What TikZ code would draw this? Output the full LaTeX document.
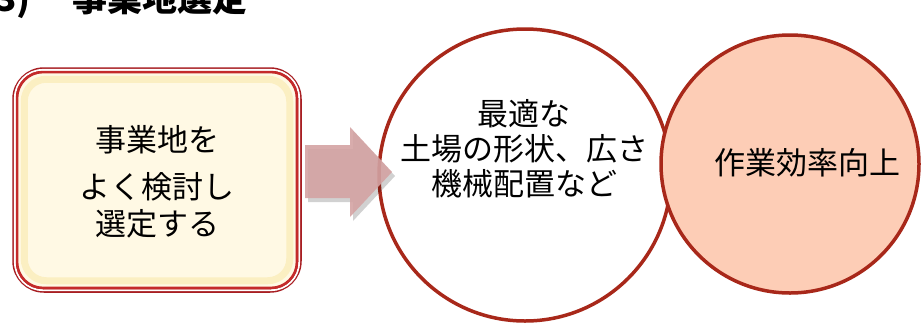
\documentclass[tikz,border=0pt]{standalone}
\usepackage{fontspec}
\newfontfamily\jp{Noto Sans CJK JP}
\usetikzlibrary{calc}
\definecolor{boxred}{HTML}{C42A2A}
\definecolor{boxdark}{HTML}{A81E22}
\definecolor{cream}{HTML}{FFF9E4}
\definecolor{glow}{HTML}{FBEFC2}
\definecolor{ringred}{HTML}{A8281A}
\definecolor{salmon}{HTML}{FDCDB6}
\definecolor{arrowpink}{HTML}{D4A3A3}
\tikzset{
  jptext/.style={font=\jp\fontsize{31}{35}\selectfont, align=center, inner sep=0pt},
  ring/.style={circle, draw=ringred, line width=3.5pt, inner sep=0pt},
}
\begin{document}
\begin{tikzpicture}[x=1pt,y=-1pt]
\useasboundingbox (0,0) rectangle (921,322);
\clip (0,0) rectangle (921,322);
\fill[white] (0,0) rectangle (921,322);
% title (cut by the top edge, as in the reference)
\node[anchor=base west, inner sep=0pt, font=\jp\bfseries\fontsize{35}{35}\selectfont] (num) at (-5,11) {3)};
\node[anchor=base west, inner sep=0pt, font=\jp\bfseries\fontsize{35}{35}\selectfont] (title) at (72,11) {事業地選定};
% left box
\node[draw=boxdark, line width=3.5pt, fill=cream, rounded corners=30pt,
      minimum width=286pt, minimum height=222pt, inner sep=0pt] (box) at (157,180) {};
\draw[glow, line width=7pt, rounded corners=22pt]
  ([shift={(12,12)}]box.north west) rectangle ([shift={(-12,-12)}]box.south east);
\draw[white, line width=1.8pt, rounded corners=28pt]
  ([shift={(2.6,2.6)}]box.north west) rectangle ([shift={(-2.6,-2.6)}]box.south east);
\draw[boxred, line width=2.6pt, rounded corners=26pt]
  ([shift={(4.8,4.8)}]box.north west) rectangle ([shift={(-4.8,-4.8)}]box.south east);
\node[jptext, font=\jp\fontsize{31}{37}\selectfont] (boxtext) at (157,182) {事業地を\\[10pt]よく検討し\\選定する};
% first circle
\node[ring, fill=white, minimum size=292pt] (c1) at (525,175) {};
% arrow
\coordinate (atail) at (305,171.5);
\coordinate (atip) at (392,172);
\fill[black, opacity=0.18] ($(atail)+(3,4)$) -- ++(0,-26.5) -- ++(45,0) -- ++(0,-18) -- ($(atip)+(3,4)$) -- ++(-42,45) -- ++(0,-19) -- ++(-45,0) -- cycle;
\fill[arrowpink, opacity=0.9] (atail) -- ++(0,-26.5) -- ++(45,0) -- ++(0,-18) -- (atip) -- ++(-42,45) -- ++(0,-19) -- ++(-45,0) -- cycle;
\node[jptext] (c1text) at (524,149) {最適な\\土場の形状、広さ\\機械配置など};
% second circle
\node[ring, fill=salmon, minimum size=258pt] (c2) at (790,164) {};
\node[jptext] (c2text) at (807,163) {作業効率向上};
\end{tikzpicture}
\end{document}
